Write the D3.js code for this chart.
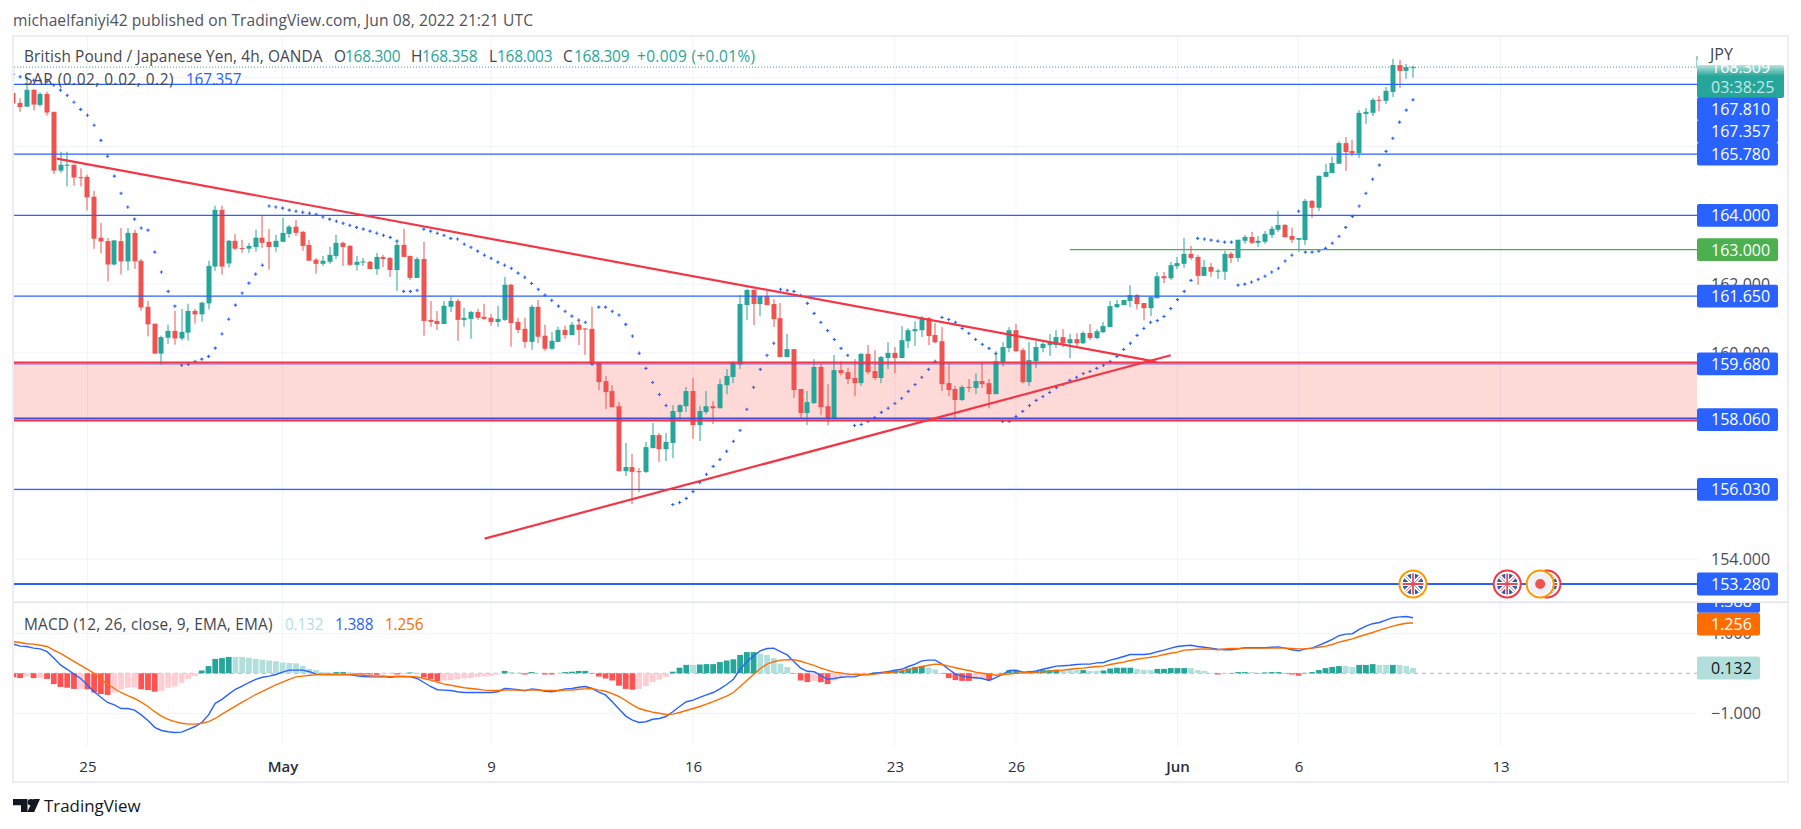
<!DOCTYPE html>
<html>
<head>
<meta charset="utf-8">
<script src="https://d3js.org/d3.v7.min.js"></script>
<style>
  html, body { margin: 0; background: #fff; }
  svg { display: block; }
  text { font-family: "Open Sans", sans-serif; }
</style>
</head>
<body>
<script>
var width = 1801,
    height = 829,
    axisLeft = 1697

var opens = [
  167.56,167.27,167.16,167.65,167.21,167.53,167.01,165.30,165.45,165.47,
  165.11,165.12,164.54,163.35,163.25,162.57,163.25,162.66,163.49,162.68,
  161.34,160.85,159.98,160.44,160.64,160.42,160.59,161.22,161.12,161.44,
  162.51,164.16,162.60,163.26,163.05,163.03,163.08,163.35,163.23,163.08,
  163.23,163.46,163.67,163.52,163.14,162.71,162.59,162.65,162.82,163.20,
  163.11,162.56,162.63,162.65,162.44,162.79,162.76,162.41,163.14,162.82,
  162.18,162.73,160.96,160.93,160.84,161.34,161.51,160.96,160.99,161.19,
  161.05,161.02,160.90,160.96,161.98,160.90,160.70,160.32,161.34,160.50,
  160.12,160.32,160.67,160.52,160.82,160.71,160.70,159.70,159.18,158.89,
  158.45,156.56,156.68,156.56,156.54,157.23,157.61,157.20,157.38,158.28,
  158.45,158.89,157.90,158.28,158.45,158.39,159.06,159.30,159.67,161.39,
  161.83,161.42,161.65,161.42,161.01,159.88,160.11,158.95,158.25,158.54,
  159.59,158.45,158.08,159.50,159.44,159.27,159.12,159.97,159.47,159.27,
  159.85,160.00,159.85,160.34,160.63,160.66,161.01,160.52,160.34,159.12,
  158.95,158.63,159.01,158.98,159.18,159.12,158.80,159.73,160.14,160.66,
  160.08,159.15,159.76,160.14,160.23,160.23,160.46,160.28,160.40,160.28,
  160.58,160.43,160.60,160.75,161.33,161.39,161.51,161.68,161.45,161.30,
  161.59,162.23,162.17,162.52,162.59,162.88,162.79,162.24,162.50,162.36,
  162.36,162.88,162.76,163.26,163.37,163.20,163.23,163.43,163.58,163.72,
  163.40,163.29,163.28,164.42,164.22,165.12,165.23,165.50,166.10,165.87,
  165.81,166.95,166.98,167.36,167.33,167.59,168.37,168.20,168.30]

var highs = [
  167.62,167.40,167.94,167.67,167.58,167.60,167.01,165.85,165.85,165.47,
  165.37,165.18,164.71,163.78,163.34,163.29,163.63,163.63,163.58,162.73,
  161.51,160.85,160.50,160.82,161.22,161.28,161.43,161.28,161.49,162.68,
  164.28,164.28,163.29,163.46,163.29,163.20,163.58,164.00,163.61,163.43,
  163.93,163.72,163.87,163.55,163.29,162.76,162.82,163.08,163.43,163.23,
  163.14,162.82,162.76,162.68,162.91,162.85,162.79,163.29,163.61,162.82,
  162.79,163.23,161.51,161.22,161.51,161.63,161.57,161.31,161.22,161.28,
  161.43,161.14,161.37,162.21,162.01,161.02,161.02,161.40,161.54,160.82,
  160.61,160.76,160.79,160.90,160.99,160.73,161.34,159.73,159.33,159.06,
  158.57,157.38,157.06,156.65,157.41,157.96,157.67,157.67,158.48,158.51,
  159.01,159.27,158.45,158.89,158.60,159.24,159.53,159.76,161.68,161.85,
  161.85,161.65,161.80,161.56,161.45,160.55,160.11,158.95,158.89,159.82,
  159.67,159.09,159.94,159.76,159.56,159.82,160.00,160.23,160.08,159.91,
  160.31,160.17,160.78,160.72,160.92,161.07,161.04,160.87,160.75,159.67,
  159.04,159.06,159.24,159.41,159.73,159.24,160.05,160.31,160.75,160.84,
  160.14,160.31,160.34,160.34,160.55,160.66,160.69,160.55,160.58,160.63,
  160.84,160.69,160.90,161.51,161.54,161.54,161.97,161.71,161.45,161.65,
  162.35,162.35,162.64,162.79,163.34,163.11,162.85,162.70,162.62,162.44,
  162.97,162.94,163.29,163.43,163.52,163.40,163.55,163.69,164.13,163.75,
  163.64,163.34,164.48,164.45,165.15,165.50,165.71,166.16,166.28,166.19,
  167.06,167.12,167.41,167.47,167.73,168.55,168.52,168.40,168.358]

var lows = [
  167.23,167.01,167.16,167.05,167.16,166.90,165.20,165.24,164.84,164.86,
  164.84,164.14,163.03,162.89,162.08,162.54,162.28,162.40,162.44,161.23,
  160.48,159.98,159.66,160.26,160.24,160.36,160.36,160.85,160.91,161.26,
  162.39,162.28,162.48,163.00,162.91,162.91,162.94,163.05,162.42,162.94,
  163.23,163.35,163.40,162.97,162.68,162.30,162.53,162.59,162.73,162.53,
  162.53,162.39,162.53,162.44,162.27,162.50,162.21,161.80,162.79,162.12,
  162.18,160.50,160.76,160.67,160.84,161.19,160.35,160.76,160.41,160.96,
  160.96,160.79,160.76,160.93,160.18,160.58,160.15,160.09,160.29,160.06,
  160.09,160.32,160.41,160.52,160.23,159.94,159.65,158.92,158.37,158.42,
  156.56,156.42,155.61,155.95,156.51,157.23,156.83,156.85,156.94,158.02,
  158.28,157.50,157.44,158.22,157.93,158.39,158.80,159.12,159.53,160.95,
  160.81,161.07,161.39,160.75,159.88,159.88,158.69,158.08,157.90,158.51,
  158.19,157.90,158.08,159.35,159.09,158.74,159.04,159.38,159.21,159.12,
  159.53,159.41,159.85,160.14,160.20,160.46,160.23,160.28,158.89,158.74,
  158.05,158.60,158.86,158.80,158.98,158.39,158.80,159.61,160.02,160.02,
  159.12,159.04,159.56,160.02,159.91,160.14,160.17,159.85,160.20,160.26,
  160.37,160.40,160.58,160.75,161.30,161.39,161.33,161.27,160.95,161.07,
  161.59,162.03,162.12,162.44,162.47,162.70,161.98,162.24,162.21,162.15,
  162.12,162.62,162.65,163.17,163.17,163.08,163.17,163.34,163.52,163.34,
  163.20,162.94,163.14,163.93,164.13,165.12,165.23,165.50,165.29,165.72,
  165.67,166.66,166.89,167.03,167.24,167.44,167.70,167.97,168.003]

var closes = [
  167.25,167.15,167.65,167.22,167.53,166.99,165.30,165.47,165.47,165.10,
  165.09,164.52,163.32,163.24,162.57,163.27,162.66,163.49,162.66,161.32,
  160.83,159.98,160.46,160.64,160.42,160.61,161.22,161.12,161.46,162.53,
  164.16,162.51,163.26,163.03,163.04,163.11,163.35,163.20,163.08,163.26,
  163.49,163.67,163.49,163.11,162.68,162.59,162.68,162.85,163.20,163.08,
  162.56,162.65,162.66,162.44,162.79,162.73,162.41,163.14,162.79,162.18,
  162.73,160.93,160.90,160.84,161.37,161.51,160.96,161.02,161.19,161.02,
  160.99,160.90,160.99,161.98,160.87,160.67,160.32,161.34,160.47,160.12,
  160.35,160.67,160.52,160.82,160.67,160.68,159.68,159.15,158.86,158.42,
  156.56,156.68,156.54,156.54,157.26,157.61,157.20,157.41,158.31,158.48,
  158.89,157.90,158.31,158.45,158.39,159.09,159.33,159.73,161.42,161.83,
  161.42,161.65,161.39,160.98,159.88,160.11,158.92,158.25,158.57,159.59,
  158.42,158.08,159.50,159.41,159.24,159.12,159.97,159.44,159.27,159.88,
  160.00,159.85,160.37,160.66,160.69,161.01,160.49,160.31,159.09,158.92,
  158.63,159.01,158.98,159.18,159.09,158.80,159.76,160.17,160.66,160.05,
  159.15,159.79,160.17,160.26,160.31,160.46,160.28,160.40,160.28,160.58,
  160.43,160.63,160.78,161.36,161.42,161.54,161.68,161.42,161.30,161.62,
  162.23,162.17,162.55,162.61,162.88,162.76,162.24,162.50,162.36,162.39,
  162.88,162.76,163.29,163.37,163.20,163.26,163.46,163.61,163.72,163.37,
  163.29,163.34,164.42,164.22,165.15,165.26,165.52,166.10,165.84,165.81,
  166.98,167.01,167.36,167.33,167.62,168.37,168.20,168.31,168.309]

var sarValues = [
  168.10,168.03,167.98,167.93,167.93,167.89,167.79,167.64,167.49,167.29,
  167.08,166.91,166.62,166.18,165.72,165.14,164.64,164.24,163.89,163.63,
  163.57,162.93,162.35,161.79,161.36,159.64,159.67,159.75,159.82,159.90,
  160.14,160.55,160.98,161.39,161.74,162.03,162.29,162.55,164.27,164.24,
  164.21,164.15,164.12,164.09,164.06,164.03,163.95,163.89,163.83,163.77,
  163.71,163.65,163.60,163.54,163.48,163.42,163.36,163.25,161.79,161.79,
  161.82,163.60,163.54,163.48,163.42,163.33,163.31,163.16,163.07,162.96,
  162.84,162.75,162.64,162.55,162.46,162.32,162.20,162.02,161.85,161.68,
  161.53,161.36,161.21,161.07,160.95,160.89,159.67,161.33,161.33,161.21,
  161.10,160.83,160.49,159.99,159.55,159.14,158.79,158.47,155.59,155.65,
  155.77,155.97,156.23,156.47,156.70,156.90,157.14,157.43,157.75,158.36,
  159.00,159.52,159.93,160.28,161.85,161.82,161.79,161.67,161.44,161.15,
  160.89,160.65,160.39,160.13,159.93,157.89,157.92,158.01,158.12,158.27,
  158.39,158.53,158.68,158.88,159.08,159.29,159.52,159.75,161.03,160.97,
  160.89,160.71,160.57,160.39,160.25,160.13,159.98,158.01,158.01,158.15,
  158.30,158.47,158.62,158.73,158.85,158.99,159.08,159.20,159.29,159.40,
  159.46,159.55,159.64,159.75,159.90,160.10,160.28,160.51,160.71,160.89,
  160.94,161.06,161.29,161.55,161.79,162.11,163.33,163.31,163.28,163.25,
  163.22,163.22,161.97,162.00,162.06,162.14,162.23,162.35,162.46,162.67,
  162.84,164.12,162.93,162.93,162.96,163.04,163.19,163.39,163.65,163.97,
  164.27,164.64,165.05,165.46,165.86,166.24,166.71,167.06,167.357]

var macdHist = [
  -.10,-.12,-.08,-.12,-.115,-.14,-.27,-.34,-.36,-.39,
  -.39,-.40,-.48,-.52,-.54,-.48,-.40,-.36,-.35,-.40,
  -.42,-.46,-.44,-.36,-.33,-.24,-.14,-.07,.07,.18,
  .36,.38,.41,.41,.41,.39,.36,.34,.32,.30,
  .27,.26,.25,.18,.11,.08,.03,.02,.03,.03,
  .02,-.03,-.03,-.03,-.04,-.03,-.02,-.03,-.02,.02,
  -.03,-.10,-.15,-.20,-.18,-.17,-.15,-.13,-.12,-.09,
  -.08,-.07,-.03,.06,.03,.02,-.03,.03,.01,-.03,
  -.03,-.01,.03,.04,.06,.06,-.01,-.08,-.13,-.18,
  -.31,-.39,-.41,-.39,-.32,-.22,-.16,-.09,.04,.14,
  .21,.21,.22,.23,.23,.28,.32,.35,.46,.53,
  .53,.49,.46,.38,.24,.16,-.01,-.18,-.22,-.19,
  -.22,-.27,-.18,-.10,-.08,-.04,-.03,-.01,.02,.03,
  .05,.08,.06,.12,.16,.18,.15,.10,-.01,-.12,
  -.17,-.19,-.19,-.15,-.13,-.17,-.02,.01,.08,.08,
  .05,.06,.06,.08,.08,.09,.09,.09,.08,.08,
  .06,.06,.07,.12,.14,.14,.14,.11,.09,.08,
  .11,.11,.13,.13,.13,.13,.08,.06,.01,-.03,
  -.01,-.01,.03,.03,.03,-.01,.02,.03,.03,-.01,
  -.03,-.06,.01,.03,.08,.13,.16,.18,.18,.16,
  .21,.21,.23,.21,.21,.21,.21,.18,.132]

// d = strong colour, l = pale colour
var histTone = 'ddldlddddd' + 'lddddlllld' + 'ddlllllldd' + 'dddlllllll' + 'lllllllldd' +
  'lddddlldld' + 'ldddllllll' + 'llldllddld' + 'dldddddddd' + 'dddllllldd' +
  'dldddddddd' + 'dllllldddl' + 'ddlllllldd' + 'ddddddlldd' + 'dddlldlddd' +
  'ldddddllld' + 'lldddddlll' + 'dddddlllld' + 'ldddlddddd' + 'ddddddddll' + 'dddlldlll'

var macdLine = [
  .73,.68,.67,.63,.61,.54,.38,.21,.10,-.02,
  -.13,-.29,-.46,-.60,-.73,-.79,-.88,-.88,-.92,-1.04,
  -1.18,-1.35,-1.43,-1.46,-1.48,-1.47,-1.40,-1.33,-1.23,-1.04,
  -.75,-.65,-.52,-.40,-.32,-.23,-.15,-.10,-.07,-.03,
  .03,.08,.08,.08,.04,-.02,-.03,-.03,-.03,-.03,
  -.03,-.06,-.08,-.09,-.09,-.08,-.10,-.08,-.08,-.09,
  -.13,-.23,-.33,-.41,-.42,-.43,-.46,-.48,-.48,-.48,
  -.48,-.48,-.46,-.38,-.39,-.41,-.44,-.39,-.41,-.45,
  -.46,-.43,-.39,-.38,-.35,-.33,-.38,-.47,-.54,-.71,
  -.89,-1.07,-1.17,-1.23,-1.21,-1.15,-1.13,-1.08,-.96,-.83,
  -.71,-.67,-.60,-.54,-.48,-.39,-.28,-.15,.10,.29,
  .44,.56,.62,.63,.54,.46,.29,.13,.05,.04,
  -.06,-.15,-.13,-.10,-.09,-.09,-.04,-.03,0,.02,
  .04,.08,.10,.17,.23,.31,.33,.33,.23,.10,
  -.02,-.07,-.10,-.11,-.13,-.18,-.11,-.03,.07,.08,
  .03,.03,.06,.10,.14,.18,.19,.20,.22,.23,
  .23,.26,.27,.33,.37,.42,.47,.47,.47,.49,
  .54,.58,.63,.67,.69,.70,.67,.65,.63,.60,
  .59,.59,.61,.64,.64,.64,.64,.65,.66,.63,
  .59,.56,.61,.63,.70,.77,.85,.94,.98,.99,
  1.10,1.18,1.24,1.27,1.33,1.39,1.41,1.42,1.388]

var signalLine = [
  .79,.77,.74,.73,.70,.67,.58,.50,.40,.30,
  .20,.10,0,-.15,-.27,-.38,-.48,-.56,-.63,-.72,
  -.83,-.96,-1.07,-1.15,-1.21,-1.25,-1.27,-1.27,-1.25,-1.21,
  -1.13,-1.02,-.92,-.82,-.72,-.63,-.53,-.45,-.37,-.29,
  -.22,-.15,-.09,-.07,-.05,-.04,-.03,-.03,-.03,-.03,
  -.04,-.04,-.05,-.06,-.07,-.07,-.08,-.08,-.08,-.08,
  -.09,-.13,-.17,-.22,-.27,-.30,-.33,-.36,-.38,-.40,
  -.42,-.43,-.43,-.42,-.42,-.42,-.42,-.41,-.42,-.43,
  -.43,-.43,-.42,-.42,-.40,-.39,-.38,-.42,-.45,-.51,
  -.58,-.68,-.79,-.88,-.93,-.97,-1.00,-1.03,-1.02,-.98,
  -.93,-.88,-.83,-.77,-.71,-.64,-.57,-.48,-.33,-.18,
  -.03,.12,.23,.29,.33,.34,.34,.30,.25,.20,
  .13,.08,.03,.01,-.02,-.03,-.03,-.03,-.02,0,
  .02,.03,.06,.09,.13,.17,.20,.23,.22,.18,
  .14,.10,.07,.03,0,-.03,-.05,-.03,-.02,0,
  .01,.02,.03,.04,.05,.07,.08,.10,.12,.13,
  .15,.17,.18,.22,.25,.28,.32,.35,.38,.40,
  .43,.47,.50,.53,.58,.59,.60,.61,.60,.59,
  .61,.62,.62,.63,.63,.63,.63,.63,.63,.63,
  .62,.61,.61,.63,.65,.68,.72,.78,.82,.86,
  .92,.97,1.02,1.08,1.13,1.18,1.22,1.25,1.256]

var timeBars = [11, 40, 71, 101, 131, 149, 173, 191, 221]
var timeLabels = ['25', 'May', '9', '16', '23', '26', 'Jun', '6', '13']
var priceTicks = [168, 166, 164, 162, 160, 158, 156, 154]
var macdTicks = [1, -1]

var blueLevels = [167.81, 165.78, 164, 161.65, 156.03]
var zoneTop = 159.68,
    zoneBottom = 158.06,
    thickLevel = 153.28,
    greenLevel = 163
var greenLevelStartBar = 157

// trend lines as [bar, price]
var downTrend = [[6.48, 165.65], [169.9, 159.74]]
var upTrend = [[70.04, 154.60], [172, 159.93]]

var eventBars = [208, 222, 227.9, 226.9]
var eventKinds = ['uk', 'uk', 'uk', 'jp']
var eventRings = ['#ff9800', '#f23645', '#f23645', '#ff9800']

var lastClose = 168.309
var stackedLabels = [167.81, 167.357, 165.78]
var plainLabels = [164, 161.65, 159.68, 158.06, 156.03, 153.28]

var barX = d3.scaleLinear().domain([0, 208]).range([13.4, 1413])
var priceY = d3.scaleLinear().domain([167.81, 153.28]).range([84.3, 584])
var macdY = d3.scaleLinear().domain([1, -1]).range([633.3, 713.3])

var green = '#26a69a', red = '#ef5350', blue = '#2962ff', grid = '#f0f3fa', frame = '#eceef4'
var ink = '#434651', tick = '#2a2e39', axisSize = '16px'

var svg = d3.select('body').append('svg').attr('width', width).attr('height', height)
var defs = svg.append('defs')

defs.append('clipPath').attr('id', 'mainClip').append('rect')
    .attr('x', 14).attr('y', 37).attr('width', axisLeft - 14).attr('height', 565)
defs.append('clipPath').attr('id', 'macdClip').append('rect')
    .attr('x', 14).attr('y', 603).attr('width', axisLeft - 14).attr('height', 142)
defs.append('clipPath').attr('id', 'axisClip').append('rect')
    .attr('x', axisLeft).attr('y', 603).attr('width', 92).attr('height', 142)

var fade = defs.append('linearGradient').attr('id', 'fade').attr('x1', 0).attr('x2', 0).attr('y1', 0).attr('y2', 1)
fade.append('stop').attr('offset', 0).attr('stop-color', '#fff').attr('stop-opacity', 1)
fade.append('stop').attr('offset', 1).attr('stop-color', '#fff').attr('stop-opacity', 0)

// published-on line
svg.append('text').attr('x', 13).attr('y', 26)
    .attr('textLength', 520)
    .style('font-size', '15.6px').style('fill', '#50535e')
    .text('michaelfaniyi42 published on TradingView.com, Jun 08, 2022 21:21 UTC')

// grid
var gridG = svg.append('g')
gridG.selectAll('line.v').data(timeBars).join('line')
    .attr('x1', barX).attr('x2', barX).attr('y1', 37).attr('y2', 745)
    .attr('stroke', grid)
gridG.selectAll('line.p').data(priceTicks).join('line').attr('class', 'p')
    .attr('x1', 14).attr('x2', axisLeft)
    .attr('y1', priceY).attr('y2', priceY).attr('stroke', grid)
gridG.selectAll('line.m').data(macdTicks).join('line').attr('class', 'm')
    .attr('x1', 14).attr('x2', axisLeft)
    .attr('y1', macdY).attr('y2', macdY).attr('stroke', grid)

var main = svg.append('g').attr('clip-path', 'url(#mainClip)')

// last price line
main.append('line').attr('x1', 14).attr('x2', axisLeft)
    .attr('y1', priceY(lastClose)).attr('y2', priceY(lastClose))
    .attr('stroke', green).attr('stroke-dasharray', '1 2')

// parabolic SAR
main.selectAll('path.sar').data(sarValues).join('path').attr('class', 'sar')
    .attr('d', d3.symbol(d3.symbolCross, 6))
    .attr('transform', function(d, i) { return 'translate(' + barX(i) + ',' + priceY(d) + ')' })
    .attr('fill', blue)

// pink zone
main.append('rect').attr('x', 14).attr('width', axisLeft - 14)
    .attr('y', priceY(zoneTop)).attr('height', priceY(zoneBottom) - priceY(zoneTop))
    .attr('fill', '#f44336').attr('fill-opacity', .2)

// candles
var candles = main.selectAll('g.candle').data(opens).join('g').attr('class', 'candle')
    .attr('fill', function(d, i) { return closes[i] >= d ? green : red })
candles.append('rect')
    .attr('x', function(d, i) { return Math.round(barX(i)) - .5 })
    .attr('width', 1)
    .attr('y', function(d, i) { return priceY(highs[i]) })
    .attr('height', function(d, i) { return priceY(lows[i]) - priceY(highs[i]) })
candles.append('rect')
    .attr('x', function(d, i) { return Math.round(barX(i)) - 2.5 })
    .attr('width', 5)
    .attr('y', function(d, i) { return priceY(Math.max(d, closes[i])) })
    .attr('height', function(d, i) { return Math.max(1, Math.abs(priceY(d) - priceY(closes[i]))) })

// horizontal levels
main.selectAll('line.level').data(blueLevels).join('line').attr('class', 'level')
    .attr('x1', 14).attr('x2', axisLeft)
    .attr('y1', priceY).attr('y2', priceY)
    .attr('stroke', blue).attr('stroke-width', 1.2)
main.append('line').attr('x1', 14).attr('x2', axisLeft)
    .attr('y1', priceY(zoneTop)).attr('y2', priceY(zoneTop))
    .attr('stroke', '#4a55e0').attr('stroke-width', 1)
main.append('line').attr('x1', 14).attr('x2', axisLeft)
    .attr('y1', priceY(zoneTop) - 1.5).attr('y2', priceY(zoneTop) - 1.5)
    .attr('stroke', '#f23645').attr('stroke-width', 1.8)
main.append('line').attr('x1', 14).attr('x2', axisLeft)
    .attr('y1', priceY(zoneBottom) - 1).attr('y2', priceY(zoneBottom) - 1)
    .attr('stroke', '#3f51d8').attr('stroke-width', 2)
main.append('line').attr('x1', 14).attr('x2', axisLeft)
    .attr('y1', priceY(zoneBottom) + 1).attr('y2', priceY(zoneBottom) + 1)
    .attr('stroke', '#f23645').attr('stroke-width', 1.6)
main.append('line').attr('x1', 14).attr('x2', axisLeft)
    .attr('y1', priceY(thickLevel)).attr('y2', priceY(thickLevel))
    .attr('stroke', blue).attr('stroke-width', 2.2)
main.append('line').attr('x1', barX(greenLevelStartBar)).attr('x2', axisLeft)
    .attr('y1', priceY(greenLevel)).attr('y2', priceY(greenLevel))
    .attr('stroke', '#4caf50').attr('stroke-width', 1.2)

// trend lines
var trendPath = d3.line()
    .x(function(d) { return barX(d[0]) })
    .y(function(d) { return priceY(d[1]) })
main.selectAll('path.trend').data([downTrend, upTrend]).join('path').attr('class', 'trend')
    .attr('d', trendPath).attr('fill', 'none')
    .attr('stroke', '#f23645').attr('stroke-width', 2.2)

// economic events on the thick level
var flagG = svg.selectAll('g.event').data(eventBars).join('g').attr('class', 'event')
    .attr('transform', function(d) { return 'translate(' + barX(d) + ',' + priceY(thickLevel) + ')' })
flagG.append('circle').attr('r', 13.5).attr('fill', '#fff')
    .attr('stroke', function(d, i) { return eventRings[i] }).attr('stroke-width', 2)
flagG.each(function(d, i) {
  var g = d3.select(this)
  if (eventKinds[i] == 'jp') {
    g.append('circle').attr('r', 11).attr('fill', '#eef0f6')
    g.append('circle').attr('r', 5).attr('fill', '#ef5350')
    return
  }
  defs.append('clipPath').attr('id', 'flag' + i).append('circle').attr('r', 10.5)
  var f = g.append('g').attr('clip-path', 'url(#flag' + i + ')')
  f.append('circle').attr('r', 10.5).attr('fill', '#2a5caa')
  f.append('path').attr('d', 'M-11-11L11 11M11-11L-11 11M0-11V11M-11 0H11')
      .attr('stroke', '#fff').attr('stroke-width', 3.8)
  f.append('path').attr('d', 'M-11-11L11 11M11-11L-11 11')
      .attr('stroke', '#f0707e').attr('stroke-width', 1)
  f.append('path').attr('d', 'M0-11V11M-11 0H11')
      .attr('stroke', '#e8495a').attr('stroke-width', 1.8)
})

// MACD pane
var macdG = svg.append('g').attr('clip-path', 'url(#macdClip)')
macdG.append('line').attr('x1', 14).attr('x2', axisLeft)
    .attr('y1', macdY(0)).attr('y2', macdY(0))
    .attr('stroke', '#b2b5be').attr('stroke-dasharray', '4 4')
macdG.selectAll('rect.hist').data(macdHist).join('rect').attr('class', 'hist')
    .attr('x', function(d, i) { return barX(i) - 2.9 })
    .attr('width', 5.8)
    .attr('y', function(d) { return Math.min(macdY(d), macdY(0)) })
    .attr('height', function(d) { return Math.abs(macdY(d) - macdY(0)) })
    .attr('fill', function(d, i) {
      var strong = histTone[i] == 'd'
      if (d >= 0) return strong ? green : '#b2dfdb'
      return strong ? '#ff5252' : '#ffcdd2'
    })

var macdPath = d3.line()
    .x(function(d, i) { return barX(i) })
    .y(function(d) { return macdY(d) })
macdG.append('path').attr('d', macdPath(macdLine)).attr('fill', 'none')
    .attr('stroke', blue).attr('stroke-width', 1.4)
macdG.append('path').attr('d', macdPath(signalLine)).attr('fill', 'none')
    .attr('stroke', '#ff6d00').attr('stroke-width', 1.4)

// legends: x, text, colour, width to fill
function legend(y, parts) {
  parts.forEach(function(p) {
    var t = svg.append('text').attr('x', p[0]).attr('y', y)
        .style('font-size', '15.4px').style('fill', p[2]).text(p[1])
    if (p[3]) t.attr('textLength', p[3])
  })
}
legend(62, [
  [24, 'British Pound / Japanese Yen, 4h, OANDA', ink, 298.5],
  [334, 'O', ink], [345, '168.300', green, 55.5],
  [411, 'H', ink], [422, '168.358', green, 55.5],
  [489, 'L', ink], [497, '168.003', green, 55.5],
  [563, 'C', ink], [574, '168.309', green, 55.5],
  [637, '+0.009 (+0.01%)', green, 118]
])
legend(84.5, [[24, 'SAR (0.02, 0.02, 0.2)', ink, 149.5], [186, '167.357', blue, 55.5]])
legend(629.5, [
  [24, 'MACD (12, 26, close, 9, EMA, EMA)', ink, 248.5],
  [285, '0.132', '#b2dfdb', 38.5], [335, '1.388', blue, 38.5], [385, '1.256', '#ff6d00', 38.5]
])

// frame and pane divider
svg.append('rect').attr('x', 13).attr('y', 36).attr('width', 1775).attr('height', 746)
    .attr('fill', 'none').attr('stroke', frame).attr('stroke-width', 2)
svg.append('line').attr('x1', 14).attr('x2', 1788).attr('y1', 602.3).attr('y2', 602.3)
    .attr('stroke', '#e0e3eb').attr('stroke-width', 1.5)

// axes
var timeAxis = d3.axisBottom(barX).tickValues(timeBars).tickSize(0).tickPadding(0)
    .tickFormat(function(d, i) { return timeLabels[i] })
var timeG = svg.append('g').attr('transform', 'translate(0,761)').call(timeAxis)
timeG.select('.domain').remove()
timeG.selectAll('text').style('font-size', '15px').style('fill', tick)
    .style('font-family', '"Open Sans", sans-serif')
    .style('font-weight', function(d, i) { return /[A-Z]/.test(timeLabels[i]) ? 600 : 400 })

var priceAxis = d3.axisRight(priceY).tickValues(priceTicks).tickSize(0).tickPadding(0)
    .tickFormat(d3.format('.3f'))
var priceG = svg.append('g').attr('transform', 'translate(1711,0)').call(priceAxis)
priceG.select('.domain').remove()
priceG.selectAll('text').style('font-size', axisSize).style('fill', '#4a4d58')
    .style('font-family', '"Open Sans", sans-serif')

var macdAxis = d3.axisRight(macdY).tickValues(macdTicks).tickSize(0).tickPadding(0)
    .tickFormat(function(d) { return d3.format('.3f')(d).replace('-', '\u2212') })
var macdAxisG = svg.append('g').attr('transform', 'translate(1711,0)').call(macdAxis)
macdAxisG.select('.domain').remove()
macdAxisG.selectAll('text').style('font-size', axisSize).style('fill', '#4a4d58')
    .style('font-family', '"Open Sans", sans-serif')

// axis value boxes
function valueBox(parent, cy, w, fill, textFill, label) {
  var g = parent.append('g')
  g.append('rect').attr('x', axisLeft).attr('y', cy - 11.4).attr('width', w).attr('height', 22.8)
      .attr('rx', 2).attr('fill', fill)
  g.append('text').attr('x', 1711).attr('y', cy + 5.8)
      .style('font-size', axisSize).style('fill', textFill).text(label)
}

// last price box with countdown, top edge fades out
svg.append('line').attr('x1', axisLeft).attr('x2', axisLeft).attr('y1', 56).attr('y2', 68)
    .attr('stroke', green)
svg.append('rect').attr('x', axisLeft).attr('y', 65).attr('width', 87).attr('height', 33)
    .attr('rx', 2).attr('fill', green)
svg.append('text').attr('x', 1711).attr('y', priceY(lastClose) + 5.8)
    .style('font-size', axisSize).style('fill', '#fff').text(d3.format('.3f')(lastClose))
svg.append('rect').attr('x', axisLeft).attr('y', 60).attr('width', 88).attr('height', 16)
    .attr('fill', 'url(#fade)')
svg.append('text').attr('x', 1711).attr('y', 92.5)
    .style('font-size', axisSize).style('fill', '#c5e8e4').text('03:38:25')
svg.append('text').attr('x', 1710).attr('y', 60)
    .style('font-size', '16px').style('fill', ink).text('JPY')

// three labels that would overlap stack upward from the lowest
stackedLabels.forEach(function(d, i) {
  var cy = priceY(stackedLabels[2]) - (2 - i) * 22.6
  valueBox(svg, cy, 81, blue, '#fff', d3.format('.3f')(d))
})
plainLabels.forEach(function(d) {
  valueBox(svg, priceY(d), 81, blue, '#fff', d3.format('.3f')(d))
})
valueBox(svg, priceY(greenLevel), 81, '#4caf50', '#fff', d3.format('.3f')(greenLevel))

var macdBoxes = svg.append('g').attr('clip-path', 'url(#axisClip)')
valueBox(macdBoxes, macdY(macdHist[208]), 63, '#b2dfdb', '#131722', '0.132')
valueBox(macdBoxes, macdY(signalLine[208]) + 1, 63, blue, '#fff', '1.388')
macdBoxes.select('g:last-child').attr('transform', 'translate(0,-22.6)')
valueBox(macdBoxes, macdY(signalLine[208]) + 1, 63, '#ff6d00', '#fff', '1.256')

// logo
var logo = svg.append('g').attr('fill', '#131722')
logo.append('path').attr('d', 'M13 799h14.5v13h-6.5v-6.8h-8z')
logo.append('circle').attr('cx', 31).attr('cy', 802.3).attr('r', 3.3)
logo.append('path').attr('d', 'M33.5 799h6.5l-5.8 13h-7z')
svg.append('text').attr('x', 44).attr('y', 812)
    .style('font-size', '16.9px').style('fill', '#131722').text('TradingView')
</script>
</body>
</html>
